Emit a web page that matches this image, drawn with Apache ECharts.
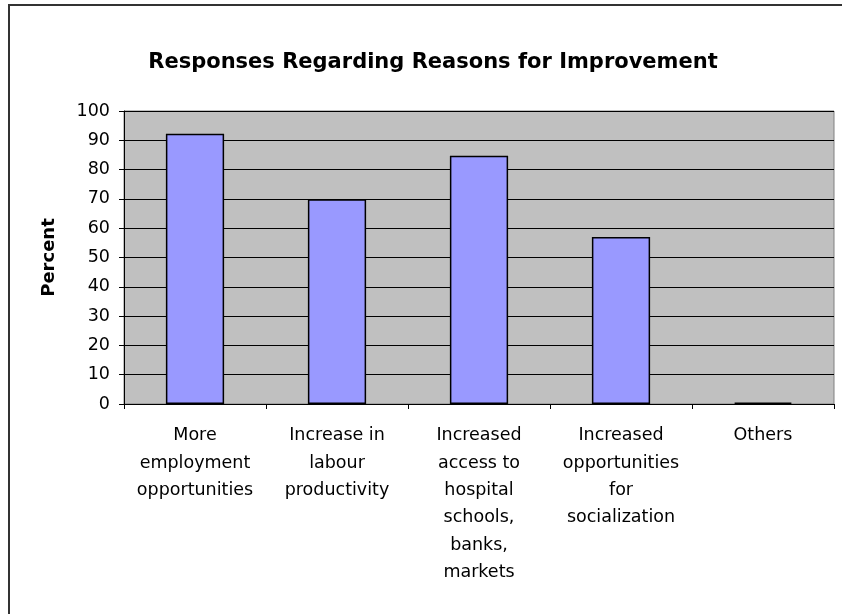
<!DOCTYPE html>
<html>
<head>
<meta charset="utf-8">
<script src="https://cdn.jsdelivr.net/npm/echarts@6/dist/echarts.min.js"></script>
<style>
  html, body { margin: 0; padding: 0; background: #ffffff; }
  #chart { width: 842px; height: 614px; }
</style>
</head>
<body>
<div id="chart"></div>
<script>
// Survey responses: reasons given for improvement (percent of respondents)
const categories = [
  'More\nemployment\nopportunities',
  'Increase in\nlabour\nproductivity',
  'Increased\naccess to\nhospital\nschools,\nbanks,\nmarkets',
  'Increased\nopportunities\nfor\nsocialization',
  'Others'
];
const percentValues = [92.2, 69.9, 84.7, 57.0, 0.5];
const yTicks = { min: 0, max: 100, interval: 10 };

const chart = echarts.init(document.getElementById('chart'));
const font = 'DejaVu Sans, sans-serif';

chart.setOption({
  animation: false,
  title: {
    text: 'Responses Regarding Reasons for Improvement',
    left: 428,
    top: 47,
    textAlign: 'center',
    textStyle: { fontFamily: font, fontSize: 21, fontWeight: 'bold', color: '#000' }
  },
  graphic: [{
    type: 'rect',
    shape: { x: 9, y: 5, width: 900, height: 700 },
    style: { fill: 'none', stroke: '#333', lineWidth: 2 },
    silent: true
  }],
  grid: {
    left: 124, right: 8, top: 111, bottom: 210,
    show: true,
    backgroundColor: '#c0c0c0',
    borderColor: '#808080',
    borderWidth: 1
  },
  xAxis: {
    type: 'category',
    data: categories,
    axisLine: { lineStyle: { color: '#000', width: 1 } },
    axisTick: { show: true, alignWithLabel: false, length: 5, lineStyle: { color: '#000' } },
    axisLabel: {
      interval: 0, margin: 18, color: '#000',
      fontFamily: font, fontSize: 17.5, lineHeight: 27.4, align: 'center'
    },
    splitLine: { show: false }
  },
  yAxis: {
    type: 'value',
    min: yTicks.min, max: yTicks.max, interval: yTicks.interval,
    name: 'Percent',
    nameLocation: 'middle',
    nameGap: 66,
    nameRotate: 90,
    nameTextStyle: { fontFamily: font, fontSize: 18, fontWeight: 'bold', color: '#000' },
    axisLine: { show: true, lineStyle: { color: '#000', width: 1 } },
    axisTick: { show: true, length: 5, lineStyle: { color: '#000' } },
    axisLabel: { color: '#000', fontFamily: font, fontSize: 17.5, margin: 14 },
    splitLine: { show: true, lineStyle: { color: '#000', width: 1 } }
  },
  series: [{
    type: 'bar',
    data: percentValues,
    barWidth: '41%',
    itemStyle: { color: '#9999ff', borderColor: '#000', borderWidth: 1.5 }
  }]
});
</script>
</body>
</html>
